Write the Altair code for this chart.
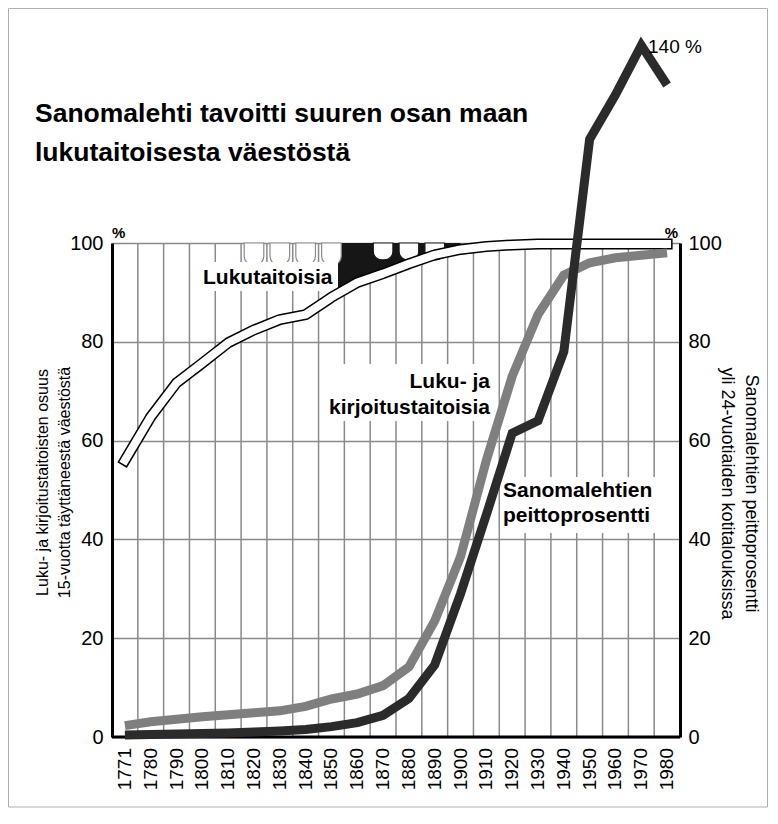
import altair as alt
import pandas as pd

# ---------------- data ----------------
years = ["1771", "1780", "1790", "1800", "1810", "1820", "1830", "1840", "1850",
         "1860", "1870", "1880", "1890", "1900", "1910", "1920", "1930", "1940",
         "1950", "1960", "1970", "1980"]
# Lukutaitoisia (white line)
literate = [56, 64.8, 71.7, 75.7, 79.8, 82.4, 84.5, 85.5, 89, 92, 93.8, 95.8,
            97.6, 98.7, 99.3, 99.6, 99.8, 99.8, 99.8, 99.8, 99.8, 99.8]
# Luku- ja kirjoitustaitoisia (grey line)
read_write = [2.3, 3.1, 3.6, 4.1, 4.5, 4.9, 5.3, 6.2, 7.7, 8.7, 10.4, 14.2,
              23.5, 36.5, 56, 73, 85.5, 93.5, 96, 97, 97.5, 98]
# Sanomalehtien peittoprosentti (black line)
coverage = [0.4, 0.5, 0.6, 0.7, 0.8, 1.0, 1.2, 1.5, 2.1, 2.9, 4.4, 7.8,
            14.6, 29, 45, 61.5, 64, 78, 121, 130, 140, 132]
# decorative black band under the top edge, and the rounded white "teeth"
band_years = ["1850", "1860", "1870", "1880", "1890", "1900"]
teeth_outlined = ["1820", "1830", "1840", "1850"]
teeth_in_band = ["1870", "1880", "1890"]
tick_values = [0, 20, 40, 60, 80, 100]

title_lines = ["Sanomalehti tavoitti suuren osan maan", "lukutaitoisesta väestöstä"]
left_title = ["Luku- ja kirjoitustaitoisten osuus", "15-vuotta täyttäneestä väestöstä"]
right_title = ["Sanomalehtien peittoprosentti", "yli 24-vuotiaiden kotitalouksissa"]

FONT = "Liberation Sans"
n = len(years)
W, H = 568, 494

df = pd.DataFrame({
    "pos": [i + 0.5 for i in range(n)],
    "year": years,
    "literate": literate,
    "read_write": read_write,
    "coverage": coverage,
})
df_band = df[df["year"].isin(band_years)]
df_bounds = pd.DataFrame({"b": list(range(1, n))})


def teeth_table(cols):
    idx = [years.index(t) for t in cols]
    return pd.DataFrame({"start": [i + 0.12 for i in idx], "end": [i + 0.88 for i in idx]})


xscale = alt.Scale(domain=[0, n], nice=False, zero=False)
yscale = alt.Scale(domain=[0, 100], nice=False, zero=True)

GRID = "#8a8a8a"


def X(f):
    return alt.X(f, scale=xscale, axis=None)


left_axis = alt.Axis(orient="left", values=tick_values, grid=True, gridColor=GRID,
                     gridWidth=1.5, gridOpacity=1, ticks=False, domainColor="black",
                     domainWidth=3, labelFontSize=20, labelFont=FONT,
                     labelColor="black", labelPadding=9, title=left_title,
                     titleFont=FONT, titleFontSize=16, titleFontWeight="normal",
                     titleColor="black", titleLineHeight=22, titleAngle=270,
                     titleAlign="center", titleBaseline="top", titleX=-78,
                     titleY=239)

right_axis = alt.Axis(orient="right", values=tick_values, grid=False, ticks=False,
                      domainColor="black", domainWidth=3, labelFontSize=20,
                      labelFont=FONT, labelColor="black", labelPadding=8,
                      title=right_title, titleFont=FONT, titleFontSize=18,
                      titleFontWeight="normal", titleColor="black",
                      titleLineHeight=24, titleAngle=90, titleAlign="center",
                      titleBaseline="top", titleX=79, titleY=250)

base = alt.Chart(df)

# vertical grid lines at the column boundaries
vgrid = alt.Chart(df_bounds).mark_rule(color=GRID, strokeWidth=1.5).encode(
    x=X("b:Q"),
    y=alt.YDatum(0, axis=None, scale=yscale),
    y2=alt.Y2Datum(100),
)

band = alt.Chart(df_band).mark_area(color="#161616", interpolate="monotone").encode(
    x=X("pos:Q"),
    y=alt.Y("literate:Q", scale=yscale, axis=None),
    y2=alt.Y2Datum(100),
)


def teeth(cols, depth, stroke):
    return alt.Chart(teeth_table(cols)).mark_bar(
        color="white", stroke=stroke, strokeWidth=1.2,
        cornerRadiusBottomLeft=9, cornerRadiusBottomRight=9
    ).encode(
        x=X("start:Q"),
        x2="end:Q",
        y=alt.YDatum(100, axis=None, scale=yscale),
        y2=alt.Y2Datum(depth),
    )


teeth_a = teeth(teeth_outlined, 95.5, GRID)
teeth_b = teeth(teeth_in_band, 96.6, "#161616")

one = pd.DataFrame({"t": [""]})


def white_box(x0, x1, y0, y1):
    return alt.Chart(one).mark_rect(color="white").encode(
        x=alt.value(x0), x2=alt.value(x1), y=alt.value(y0), y2=alt.value(y1))


def label(text, x, y, size, weight="bold", align="left"):
    return alt.Chart(pd.DataFrame({"t": [text]})).mark_text(
        align=align, baseline="alphabetic", fontSize=size, fontWeight=weight,
        font=FONT, color="black"
    ).encode(x=alt.value(x), y=alt.value(y), text="t:N")


boxes = [
    white_box(86, 226, 19, 48),
    white_box(226, 382, 121, 178),
    white_box(388, 550, 234, 290),
]

white_outline = base.mark_line(color="black", strokeWidth=11, strokeCap="square",
                               strokeJoin="round").encode(
    x=X("pos:Q"), y=alt.Y("literate:Q", scale=yscale, axis=None))
white_line = base.mark_line(color="white", strokeWidth=8, strokeCap="square",
                            strokeJoin="round").encode(
    x=X("pos:Q"), y=alt.Y("literate:Q", scale=yscale, axis=None))

# x baseline (thick black) along value 0
baseline = alt.Chart(one).mark_rule(color="black", strokeWidth=3).encode(
    x=alt.XDatum(0, scale=xscale, axis=None),
    x2=alt.X2Datum(n),
    y=alt.YDatum(0, axis=None, scale=yscale),
)

grey_line = base.mark_line(color="#7f7f7f", strokeWidth=9).encode(
    x=X("pos:Q"),
    y=alt.Y("read_write:Q", scale=yscale, axis=left_axis),
)

black_line = base.mark_line(color="#2b2b2b", strokeWidth=9).encode(
    x=X("pos:Q"),
    y=alt.Y("coverage:Q", scale=yscale, axis=right_axis),
)

# year labels under each column (tick labels placed through the x scale)
year_labels = base.mark_text(angle=270, align="right", baseline="middle",
                             fontSize=19, font=FONT, color="black").encode(
    x=X("pos:Q"), y=alt.value(H + 11), text="year:N")

texts = [
    label(title_lines[0], -77, -121, 26.5),
    label(title_lines[1], -77, -82, 26.5),
    label("Lukutaitoisia", 91, 41, 21),
    label("Luku- ja", 378, 145, 21, align="right"),
    label("kirjoitustaitoisia", 378, 171, 21, align="right"),
    label("Sanomalehtien", 391, 254, 21),
    label("peittoprosentti", 391, 279, 21),
    label("140 %", 536, -190, 19, weight="normal"),
    label("%", 0, -5, 15),
    label("%", 566, -5, 15, align="right"),
]

border = alt.Chart(one).mark_rect(filled=False, color="#b0b0b0", strokeWidth=1).encode(
    x=alt.value(-103.5), x2=alt.value(655.5), y=alt.value(-234.5), y2=alt.value(564))

chart = alt.layer(
    vgrid, band, teeth_a, teeth_b, *boxes, white_outline, white_line, baseline,
    grey_line, black_line, year_labels, *texts, border
).resolve_axis(y="independent").properties(
    width=W, height=H,
    autosize="none",
    padding={"left": 104, "top": 235, "right": 88, "bottom": 71},
    background="white",
).configure_view(stroke=None)

chart.save("out.html", embed_options={"renderer": "svg", "actions": False})
